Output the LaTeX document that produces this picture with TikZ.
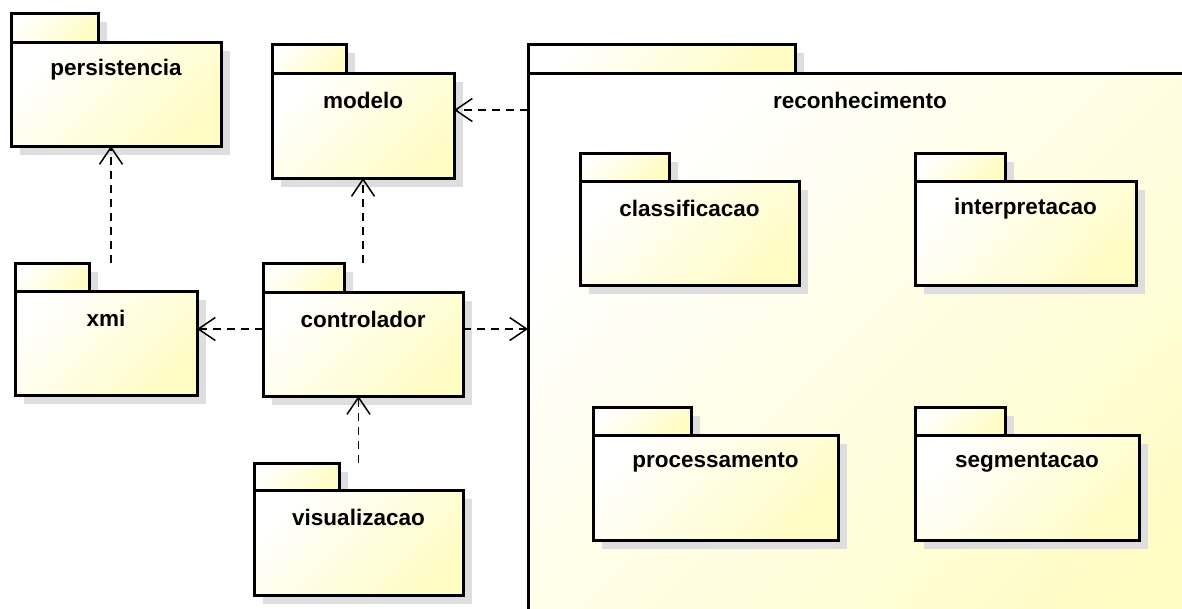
\documentclass[tikz,border=0pt]{standalone}
\usepackage{fontspec}
\setmainfont{Liberation Sans}
\usetikzlibrary{arrows.meta,shadows,calc}
\definecolor{pkgyellow}{RGB}{255,252,196}
\definecolor{pkgshadow}{RGB}{222,222,222}
\tikzset{
  pkgpart/.style={draw=black, line width=3pt, inner sep=0pt, outer sep=0pt,
    top color=white, bottom color=pkgyellow, shading angle=45,
    general shadow={fill=pkgshadow, shadow xshift=9pt, shadow yshift=-9pt}},
  pkglabel/.style={font=\fontsize{22.5}{26}\selectfont\bfseries, inner sep=0pt},
  dep/.style={line width=1.5pt, dash pattern=on 8pt off 6pt,
    -{Straight Barb[length=17pt,width=23pt,line width=1.5pt]}}
}
% UML package: name, left, tab top, tab right, body top, body right, body bottom, label
\newcommand\umlpkg[8]{%
  \node[pkgpart, anchor=north west, minimum width={(#4-#2)*1pt},
        minimum height={(#5-#3)*1pt}] (#1-tab) at (#2,#3) {};
  \node[pkgpart, anchor=north west, minimum width={(#6-#2)*1pt},
        minimum height={(#7-#5)*1pt}] (#1) at (#2,#5) {};
  \node[pkglabel] (#1-label) at ([yshift=-27.5pt]#1.north) {#8};
}
\begin{document}
\begin{tikzpicture}[x=1pt,y=-1pt]
\useasboundingbox[fill=white] (0,0) rectangle (1182,608);
\clip (0,0) rectangle (1182,608);

\umlpkg{persistencia}{11}{13}{98}{42}{221}{146}{persistencia}
\umlpkg{modelo}{272}{44}{346}{73}{454}{178}{modelo}
\umlpkg{xmi}{15}{263}{89}{291}{197}{395}{xmi}
\umlpkg{controlador}{263}{263}{344}{292}{463}{396}{controlador}
\umlpkg{visualizacao}{254}{463}{339}{490}{463}{595}{visualizacao}

\umlpkg{reconhecimento}{528}{44}{795}{73}{1192}{720}{reconhecimento}
\umlpkg{classificacao}{580}{153}{669}{181}{799}{285}{classificacao}
\umlpkg{interpretacao}{915}{153}{1005}{181}{1136}{285}{interpretacao}
\umlpkg{processamento}{593}{407}{691}{435}{838}{540}{processamento}
\umlpkg{segmentacao}{915}{407}{1005}{435}{1139}{540}{segmentacao}

% dependency connectors
\coordinate (mod-right) at ([yshift=-37pt]modelo.north east);
\coordinate (ctl-left) at ([yshift=-37pt]controlador.north west);
\coordinate (ctl-right) at ([yshift=-37pt]controlador.north east);
\coordinate (xmi-mid) at ([xshift=5pt]xmi.north);

\draw[dep] (mod-right -| reconhecimento.west) -- (mod-right);
\draw[dep] (xmi-mid |- xmi-tab.north) -- (xmi-mid |- persistencia.south);
\draw[dep] (controlador.north |- controlador-tab.north) -- (controlador.north |- modelo.south);
\draw[dep] (ctl-left) -- (ctl-left -| xmi.east);
\draw[dep] (ctl-right) -- (ctl-right -| reconhecimento.west);
\draw[dep] (visualizacao.north |- visualizacao-tab.north) -- (visualizacao.north |- controlador.south);
\end{tikzpicture}
\end{document}
